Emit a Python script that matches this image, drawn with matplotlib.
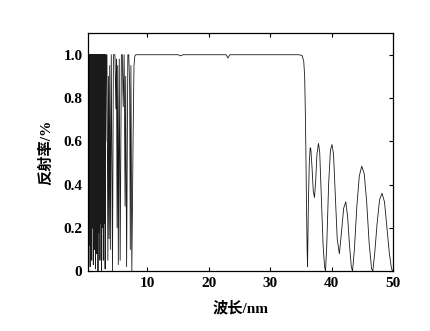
import numpy as np
import matplotlib.pyplot as plt

# ── data ─────────────────────────────────────────────────────────────────────
# dense short-wavelength part: alternating caps (1.0) and dips
left_x = [0.30, 0.37, 0.40, 0.44, 0.47, 0.50, 0.53, 0.57, 0.60, 0.63, 0.66, 0.70, 0.73,
          0.76, 0.79, 0.83, 0.86, 0.89, 0.92, 0.96, 0.99, 1.02, 1.05, 1.09, 1.12, 1.15,
          1.18, 1.22, 1.25, 1.28, 1.31, 1.35, 1.38, 1.42, 1.45, 1.49, 1.52, 1.56, 1.59,
          1.63, 1.66, 1.70, 1.73, 1.77, 1.80, 1.84, 1.87, 1.91, 1.94, 1.98, 2.02, 2.06,
          2.10, 2.14, 2.18, 2.22, 2.26, 2.30, 2.34, 2.39, 2.43, 2.48, 2.52, 2.57, 2.61,
          2.66, 2.70, 2.75, 2.80, 2.85, 2.90, 2.95, 3.00, 3.05, 3.10, 3.16, 3.22, 3.30,
          3.40, 3.55, 3.65, 3.75, 3.85, 3.95, 4.10, 4.30, 4.45, 4.70, 4.85, 4.95, 5.05,
          5.15, 5.25, 5.40, 5.55, 5.75, 5.90, 6.05, 6.20, 6.35, 6.45, 6.60, 6.80, 6.95,
          7.10, 7.20, 7.30, 7.45, 7.65, 7.80, 7.95, 8.10]
left_y = [1.00, 1.00, 0.05, 1.00, 0.30, 1.00, 0.12, 1.00, 0.40, 1.00, 0.02, 1.00, 0.33,
          1.00, 0.15, 1.00, 0.42, 1.00, 0.05, 1.00, 0.35, 1.00, 0.20, 1.00, 0.44, 1.00,
          0.03, 1.00, 0.38, 1.00, 0.22, 1.00, 0.10, 1.00, 0.40, 1.00, 0.01, 1.00, 0.30,
          1.00, 0.45, 1.00, 0.08, 1.00, 0.35, 1.00, 0.25, 1.00, 0.00, 1.00, 0.40, 1.00,
          0.18, 1.00, 0.42, 1.00, 0.05, 1.00, 0.30, 1.00, 0.22, 1.00, 0.00, 1.00, 0.42,
          1.00, 0.20, 1.00, 0.05, 1.00, 0.45, 1.00, 0.22, 1.00, 0.01, 1.00, 0.60, 1.00,
          1.00, 0.05, 0.90, 0.15, 0.95, 0.10, 1.00, 0.00, 1.00, 1.00, 0.75, 0.98, 0.20,
          0.95, 0.03, 0.98, 0.05, 1.00, 1.00, 0.76, 1.00, 0.30, 0.90, 0.02, 1.00, 1.00,
          0.85, 0.10, 0.95, 0.00, 0.60, 0.95, 0.995, 1.00]

# high-reflectance band
band_x = [8.5, 15.0, 15.4, 15.8, 22.8, 23.1, 23.4, 34.6, 35.0]
band_y = [1.00, 1.00, 0.995, 1.00, 1.00, 0.985, 1.00, 1.00, 0.998]

# long-wavelength side lobes
right_x = [35.2, 35.45, 35.6, 35.7, 35.8, 35.9, 36.0, 36.07, 36.2, 36.35, 36.5, 36.6,
           36.8, 37.0, 37.2, 37.4, 37.6, 37.85, 38.05, 38.3, 38.6, 38.85, 39.0, 39.2,
           39.5, 39.8, 40.05, 40.3, 40.6, 40.9, 41.25, 41.6, 41.95, 42.3, 42.6, 42.9,
           43.2, 43.4, 43.7, 44.1, 44.5, 44.9, 45.3, 45.7, 46.1, 46.5, 46.7, 47.0, 47.4,
           47.8, 48.2, 48.6, 49.0, 49.4, 49.75, 50.0]
right_y = [0.995, 0.97, 0.90, 0.75, 0.55, 0.30, 0.10, 0.02, 0.30, 0.50, 0.57, 0.565,
           0.48, 0.37, 0.34, 0.42, 0.54, 0.59, 0.55, 0.35, 0.12, 0.02, 0.00, 0.12,
           0.40, 0.56, 0.585, 0.54, 0.35, 0.15, 0.08, 0.18, 0.29, 0.32, 0.25, 0.12,
           0.02, 0.00, 0.10, 0.30, 0.44, 0.485, 0.45, 0.32, 0.13, 0.01, 0.00, 0.08, 0.22,
           0.33, 0.36, 0.32, 0.20, 0.08, 0.01, 0.00]

x_ticks = [10, 20, 30, 40, 50]
y_ticks = [0, 0.2, 0.4, 0.6, 0.8, 1.0]
y_tick_labels = ["0", "0.2", "0.4", "0.6", "0.8", "1.0"]

wl = np.array(left_x + band_x + right_x)
refl = np.array(left_y + band_y + right_y)

# ── figure ───────────────────────────────────────────────────────────────────
fonts = ["Liberation Serif", "Noto Sans CJK SC"]

fig = plt.figure(figsize=(4.31, 3.31), dpi=100)
ax = fig.add_axes([0.204, 0.181, 0.708, 0.719])
ax.plot(wl, refl, color="#1a1a1a", linewidth=0.6)

ax.set_xlim(0.3, 50)
ax.set_ylim(0, 1.1)
ax.set_xticks(x_ticks)
ax.set_yticks(y_ticks)
ax.set_yticklabels(y_tick_labels)
ax.tick_params(direction="in", top=True, right=True, length=3, width=0.8,
               labelsize=11, pad=4)
for lab in ax.get_xticklabels() + ax.get_yticklabels():
    lab.set_family(fonts)
    lab.set_fontweight("bold")
for s in ax.spines.values():
    s.set_linewidth(0.9)

ax.set_xlabel("波长/nm", family=fonts, fontweight="bold", fontsize=11, labelpad=8)
ax.set_ylabel("反射率/%", family=fonts, fontweight="bold", fontsize=11, labelpad=7)

plt.savefig("out.png", dpi=100)
plt.close()
